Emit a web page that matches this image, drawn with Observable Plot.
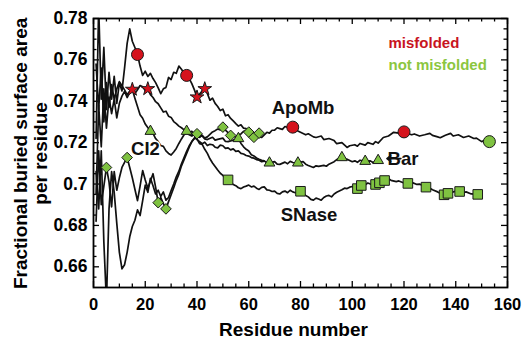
<!DOCTYPE html>
<html><head><meta charset="utf-8">
<script src="https://cdn.jsdelivr.net/npm/d3@7"></script>
<script src="https://cdn.jsdelivr.net/npm/@observablehq/plot@0.6"></script>
<style>
html,body{margin:0;padding:0;background:#fff;}
</style></head><body><div id="chart"></div>
<script>
// ---- data: [residue number, fractional buried surface area per residue]
const apoMb = [[1,0.722],[2,0.786],[3,0.741],[4,0.766],[5,0.736],[6,0.754],[7,0.741],[8,0.752],[9,0.739],[10,0.749],[11,0.745],[12,0.756],[13,0.768],[14,0.775],[15,0.769],[16,0.766],[17,0.7626],[18,0.757],[19,0.7525],[20,0.7545],[21,0.752],[22,0.7535],[23,0.751],[24,0.749],[25,0.7465],[26,0.7437],[27,0.746],[28,0.7467],[29,0.7515],[30,0.7505],[31,0.754],[32,0.7535],[33,0.757],[34,0.7555],[35,0.7535],[36,0.7525],[37,0.751],[38,0.7485],[39,0.7455],[40,0.742],[41,0.7435],[42,0.745],[43,0.746],[44,0.7438],[45,0.7405],[46,0.7415],[47,0.739],[48,0.7375],[49,0.7355],[50,0.7362],[51,0.733],[52,0.7335],[53,0.7317],[54,0.7305],[55,0.7292],[56,0.728],[57,0.7286],[58,0.727],[59,0.7268],[60,0.7259],[61,0.7252],[62,0.7245],[63,0.7235],[64,0.7228],[65,0.7225],[66,0.7238],[67,0.725],[68,0.7246],[69,0.726],[70,0.726],[71,0.7272],[72,0.7268],[73,0.7264],[74,0.7278],[75,0.7273],[76,0.7285],[77,0.7275],[78,0.7265],[79,0.7256],[80,0.725],[82,0.7238],[83,0.7243],[85,0.7228],[86,0.7225],[88,0.7232],[89,0.7215],[91,0.722],[93,0.721],[94,0.7195],[96,0.72],[98,0.7177],[99,0.7185],[101,0.719],[102,0.7183],[103,0.7196],[105,0.7188],[106,0.72],[108,0.7192],[109,0.7205],[110,0.7198],[112,0.7225],[114,0.7232],[116,0.725],[118,0.7246],[120,0.7252],[121,0.7245],[123,0.7238],[124,0.7242],[126,0.7232],[128,0.7238],[130,0.7245],[131,0.7235],[133,0.7228],[134,0.7224],[136,0.7236],[138,0.7245],[139,0.7232],[141,0.7238],[143,0.7225],[145,0.7232],[147,0.722],[148,0.7222],[150,0.7205],[151,0.721],[153,0.7205]];

const bar = [[1,0.695],[2,0.738],[3,0.718],[4,0.746],[5,0.727],[6,0.742],[7,0.734],[8,0.741],[9,0.732],[10,0.739],[11,0.7425],[12,0.7448],[13,0.7418],[14,0.7442],[15,0.7457],[16,0.7415],[17,0.7375],[18,0.7335],[19,0.7318],[20,0.729],[22,0.7255],[23,0.7245],[24,0.722],[25,0.7205],[26,0.7186],[27,0.7182],[28,0.716],[29,0.7148],[30,0.714],[31,0.7155],[32,0.7172],[33,0.7196],[34,0.7218],[35,0.7238],[36,0.7245],[37,0.7238],[38,0.7232],[39,0.7242],[40,0.7225],[42,0.7232],[43,0.7218],[44,0.7215],[46,0.7226],[47,0.7212],[48,0.7216],[50,0.7222],[51,0.7206],[52,0.7205],[54,0.7212],[56,0.722],[57,0.7196],[58,0.718],[59,0.7168],[60,0.716],[61,0.7142],[62,0.7136],[63,0.7126],[64,0.712],[65,0.7115],[66,0.7112],[67,0.7102],[68,0.7102],[70,0.7108],[71,0.7096],[72,0.7095],[74,0.7106],[75,0.7098],[76,0.711],[77,0.7104],[79,0.7102],[81,0.7108],[82,0.7096],[83,0.709],[85,0.708],[86,0.7088],[87,0.7085],[89,0.709],[90,0.7086],[91,0.7096],[93,0.7108],[94,0.7118],[96,0.7128],[97,0.7122],[98,0.712],[100,0.7108],[101,0.7112],[102,0.7105],[103,0.7115],[105,0.711],[107,0.7112],[108,0.7104],[110,0.7114]];

// second, unlabeled trace running with Bar through the star at residue 21
const barTrace2 = [[1,0.758],[2,0.736],[3,0.756],[4,0.73],[5,0.749],[6,0.737],[7,0.748],[8,0.741],[9,0.746],[10,0.7495],[11,0.7475],[12,0.7455],[13,0.7432],[14,0.7448],[15,0.7457],[16,0.7437],[17,0.7455],[18,0.7476],[19,0.747],[20,0.7452],[21,0.746],[22,0.7432],[23,0.7418],[24,0.7398],[25,0.7388],[26,0.7368],[27,0.7348],[28,0.7352],[29,0.7328],[30,0.7322],[31,0.7302],[32,0.7292],[33,0.728],[34,0.7272],[35,0.7262],[36,0.7255],[37,0.7248],[38,0.7255],[39,0.7238],[40,0.7215],[41,0.7205],[42,0.7195],[43,0.7202],[44,0.7186],[45,0.7192],[46,0.719],[47,0.7178],[48,0.7175],[49,0.7188],[50,0.7185],[51,0.7172],[52,0.7175],[53,0.7165],[54,0.717],[55,0.7158],[56,0.716],[57,0.7148],[58,0.7145],[59,0.7138],[60,0.7135],[61,0.7128],[62,0.7125],[63,0.7118],[64,0.7115],[65,0.7108],[66,0.711]];

const ci2 = [[1,0.682],[2,0.716],[3,0.69],[4,0.699],[5,0.708],[6,0.701],[7,0.689],[8,0.706],[9,0.697],[10,0.703],[11,0.708],[12,0.7105],[13,0.7128],[14,0.708],[15,0.703],[16,0.6975],[17,0.692],[18,0.699],[19,0.7065],[20,0.702],[21,0.698],[22,0.7015],[23,0.705],[24,0.6985],[25,0.691],[26,0.6935],[27,0.6905],[28,0.688],[29,0.6915],[30,0.6948],[31,0.6982],[32,0.7018],[33,0.7048],[34,0.7088],[35,0.7118],[36,0.7148],[37,0.7178],[38,0.7205],[39,0.722],[40,0.7243],[41,0.7226],[42,0.7236],[43,0.7222],[44,0.7228],[45,0.724],[46,0.7252],[47,0.7258],[48,0.7266],[49,0.7262],[50,0.7275],[51,0.726],[52,0.7248],[53,0.7235],[54,0.7232],[55,0.7226],[56,0.7238],[57,0.7242],[58,0.7255],[59,0.7258],[60,0.7251],[61,0.724],[62,0.7226],[63,0.7238],[64,0.7246]];

const sNase = [[1,0.706],[2,0.688],[3,0.716],[4,0.672],[5,0.643],[6,0.688],[7,0.706],[8,0.696],[9,0.681],[10,0.667],[11,0.659],[12,0.661],[13,0.667],[14,0.6745],[15,0.6795],[16,0.6825],[17,0.6875],[18,0.6848],[19,0.692],[20,0.6995],[21,0.696],[22,0.7028],[23,0.6992],[24,0.6952],[25,0.697],[26,0.694],[27,0.6962],[28,0.6922],[29,0.6935],[30,0.6968],[31,0.7],[32,0.7035],[33,0.7062],[34,0.7098],[35,0.7128],[36,0.7158],[37,0.7185],[38,0.7205],[39,0.7222],[40,0.7218],[41,0.7195],[42,0.7192],[43,0.7168],[44,0.7148],[45,0.7122],[46,0.7102],[47,0.7085],[48,0.7068],[49,0.7052],[50,0.7042],[51,0.7028],[52,0.702],[53,0.7008],[54,0.6998],[55,0.6992],[56,0.6982],[57,0.6978],[58,0.6986],[59,0.699],[60,0.6995],[61,0.6986],[62,0.699],[63,0.698],[64,0.6974],[65,0.6984],[66,0.6986],[67,0.6972],[68,0.697],[69,0.6964],[70,0.6966],[71,0.6955],[72,0.6952],[73,0.6962],[74,0.6966],[75,0.6958],[76,0.697],[77,0.6962],[78,0.6958],[80,0.6965],[81,0.6955],[82,0.6945],[83,0.6938],[84,0.6926],[85,0.6922],[86,0.6932],[87,0.6928],[88,0.6922],[89,0.6935],[90,0.6942],[91,0.6945],[92,0.6938],[93,0.6952],[94,0.696],[95,0.6966],[96,0.6972],[97,0.698],[98,0.6978],[99,0.6985],[100,0.6988],[102,0.6978],[103.5,0.6993],[105,0.6996],[106,0.7005],[107,0.7],[109,0.6998],[110.5,0.7006],[111,0.7012],[112.5,0.7017],[114,0.7025],[115,0.7018],[117,0.7012],[118,0.7015],[120,0.7005],[121.5,0.7003],[123,0.7008],[125,0.6998],[126,0.7],[128.5,0.6985],[130,0.698],[131,0.6972],[133,0.6962],[134,0.6955],[135.5,0.6948],[137,0.6955],[138,0.6958],[140,0.6966],[141.5,0.6964],[143,0.6958],[144,0.6962],[146,0.6952],[148.5,0.695]];

// ---- marked residues
const apoMbRedCircles = [17, 36, 77, 120];
const apoMbGreenCircles = [153];
const apoMbStars = [40, 43];
const barStars = [15];
const barTrace2Stars = [21];
const barTriangles = [22, 56, 68, 79, 96, 105, 110];
const barTrace2Triangles = [36];
const ci2Diamonds = [5, 13, 25, 28, 40, 50, 53, 60, 62, 64];
const sNaseSquares = [52, 80, 102, 103.5, 109, 110.5, 112.5, 121.5, 128.5, 135.5, 137, 141.5, 148.5];

// ---- axis ticks
const xTicks = [0, 20, 40, 60, 80, 100, 120, 140, 160];
const xMinor = [5,10,15,25,30,35,45,50,55,65,70,75,85,90,95,105,110,115,125,130,135,145,150,155];
const yTicks = [0.66, 0.68, 0.70, 0.72, 0.74, 0.76, 0.78];
const yMinor = [0.655,0.665,0.67,0.675,0.685,0.69,0.695,0.705,0.71,0.715,0.725,0.73,0.735,0.745,0.75,0.755,0.765,0.77,0.775];

// ---- annotations (data coordinates)
const seriesLabels = [
  {text: "ApoMb", x: 81, y: 0.7365, anchor: "middle"},
  {text: "SNase", x: 83.3, y: 0.6848, anchor: "middle"},
  {text: "Bar", x: 119.6, y: 0.7123, anchor: "start"}
];
const barPointer = [{x1: 118.8, x2: 113.4, y: 0.7123}];
const ci2Label = [{text: "CI2", x: 20.1, y: 0.7167}];
const legendItems = [
  {text: "misfolded", x: 114, y: 0.768, color: "#c8141e"},
  {text: "not misfolded", x: 114, y: 0.7575, color: "#8cc63f"}
];
const xTitle = "Residue number";
const yTitle = [{text: "Fractional buried surface area\nper residue", x: -24.4, y: 0.7148}];

const RED = "#d5121c", GREEN = "#7fc241", OUT = "#1a1a1a";

const at = (s, r) => s.filter(d => d[0] === r);
const pick = (s, list) => list.flatMap(r => at(s, r));

const W = 526, H = 339, mL = 93, mR = 19, mT = 18, mB = 52;
const innerW = W - mL - mR, innerH = H - mT - mB;
const px = d => d[0], py = d => d[1];

const lineOpts = {x: px, y: py, stroke: "#111", strokeWidth: 1.7, clip: true};
const dotStyle = (fill) => ({x: px, y: py, fill, stroke: OUT, strokeWidth: 1});
const tickStyle = {stroke: "#000", strokeWidth: 1.3};

const chart = Plot.plot({
  width: W, height: H,
  marginLeft: mL, marginRight: mR, marginTop: mT, marginBottom: mB,
  x: {domain: [0, 160]},
  y: {domain: [0.65, 0.78]},
  style: {fontFamily: "'Liberation Sans', Arial, Helvetica, sans-serif", fontWeight: "bold", background: "#fff", color: "#000", overflow: "visible"},
  marks: [
    Plot.axisX(xTicks, {tickSize: 0, tickPadding: 11, fontSize: 16.5, label: null}),
    Plot.axisY(yTicks, {tickSize: 0, tickPadding: 6, fontSize: 17.5, label: null, tickFormat: d => String(+d.toFixed(2))}),
    // inward ticks on all four sides
    Plot.tickX(xTicks, {x: d => d, insetTop: innerH - 6, ...tickStyle}),
    Plot.tickX(xTicks, {x: d => d, insetBottom: innerH - 6, ...tickStyle}),
    Plot.tickX(xMinor, {x: d => d, insetTop: innerH - 3.5, ...tickStyle}),
    Plot.tickX(xMinor, {x: d => d, insetBottom: innerH - 3.5, ...tickStyle}),
    Plot.tickY(yTicks, {y: d => d, insetRight: innerW - 6, ...tickStyle}),
    Plot.tickY(yTicks, {y: d => d, insetLeft: innerW - 6, ...tickStyle}),
    Plot.tickY(yMinor, {y: d => d, insetRight: innerW - 3.5, ...tickStyle}),
    Plot.tickY(yMinor, {y: d => d, insetLeft: innerW - 3.5, ...tickStyle}),
    // lines
    Plot.line(sNase, lineOpts),
    Plot.line(ci2, lineOpts),
    Plot.line(barTrace2, lineOpts),
    Plot.line(bar, lineOpts),
    Plot.line(apoMb, lineOpts),
    Plot.frame({stroke: "#000", strokeWidth: 1.8}),
    // labels
    Plot.text(seriesLabels, {x: "x", y: "y", text: "text", textAnchor: d => d.anchor, fontSize: 18.5, fill: "#111"}),
    Plot.arrow(barPointer, {x1: "x1", x2: "x2", y1: "y", y2: "y", stroke: "#111", strokeWidth: 1.6, headLength: 6, headAngle: 75}),
    Plot.text(ci2Label, {x: "x", y: "y", text: "text", fontSize: 18.5, fill: "#111", stroke: "#fff", strokeWidth: 3}),
    Plot.text(legendItems, {x: "x", y: "y", text: "text", fill: "color", textAnchor: "start", fontSize: 15}),
    // markers
    Plot.dot(pick(ci2, ci2Diamonds), {...dotStyle(GREEN), symbol: "diamond2", r: 4.8}),
    Plot.dot(pick(sNase, sNaseSquares), {...dotStyle(GREEN), symbol: "square", r: 5.4}),
    Plot.dot(pick(bar, barTriangles), {...dotStyle(GREEN), symbol: "triangle", r: 4}),
    Plot.dot(pick(barTrace2, barTrace2Triangles), {...dotStyle(GREEN), symbol: "triangle", r: 4}),
    Plot.dot(pick(apoMb, apoMbGreenCircles), {...dotStyle(GREEN), symbol: "circle", r: 6}),
    Plot.dot(pick(apoMb, apoMbRedCircles), {...dotStyle(RED), symbol: "circle", r: 6}),
    Plot.dot([...pick(apoMb, apoMbStars), ...pick(bar, barStars), ...pick(barTrace2, barTrace2Stars)], {...dotStyle(RED), symbol: "star", r: 4.3}),
    // axis titles
    Plot.text([xTitle], {text: d => d, frameAnchor: "bottom", dy: 42, dx: -7, fontSize: 19, lineAnchor: "middle"}),
    Plot.text(yTitle, {x: "x", y: "y", text: "text", rotate: -90, fontSize: 19, lineAnchor: "middle", lineHeight: 1.05, textAnchor: "middle"})
  ]
});
document.getElementById("chart").appendChild(chart);
</script>
</body></html>
